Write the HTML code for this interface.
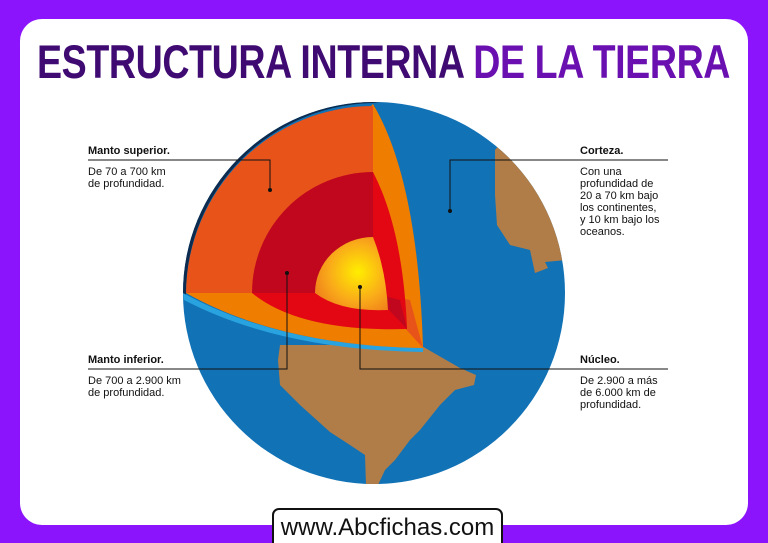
<!DOCTYPE html>
<html><head><meta charset="utf-8"><style>
html,body{margin:0;width:768px;height:543px;overflow:hidden}
body{background:#8c14fc;position:relative;font-family:"Liberation Sans",sans-serif}
.card{position:absolute;left:20px;top:19px;width:728px;height:506px;background:#fff;border-radius:22px}
.title{position:absolute;left:37px;top:36px;width:693px;white-space:nowrap;font-weight:bold;font-size:47px;line-height:52px;color:#3f0a72;transform-origin:left top;letter-spacing:-0.5px}
.lab{position:absolute;font-size:11px;line-height:12px;color:#111}
.lab b{display:block;margin-bottom:9px}
.foot{position:absolute;left:272px;top:508px;width:227px;height:40px;background:#fff;border:2px solid #111;border-radius:7px;font-size:24px;text-align:center;line-height:36px;color:#111}
</style></head><body>
<div class="card"></div>
<div class="title" id="t">ESTRUCTURA INTERNA <span style="color:#6a0fb0">DE LA TIERRA</span></div>
<svg width="768" height="543" style="position:absolute;left:0;top:0">
<defs>
<radialGradient id="g" cx="358" cy="272" r="60" gradientUnits="userSpaceOnUse"><stop offset="0" stop-color="#ffee00"/><stop offset="0.5" stop-color="#f9a81a"/><stop offset="1" stop-color="#e8641a"/></radialGradient>
<clipPath id="c"><circle cx="374" cy="293" r="191"/></clipPath>
</defs>
<circle cx="374" cy="293" r="191" fill="#1172b6"/>
<g clip-path="url(#c)" fill="#b07d48">
<path d="M495 150 L520 120 L570 160 L566 260 L545 262 L548 268 L535 273 L530 250 L510 245 L497 225 L495 195 Z"/>
<path d="M280 345 L420 345 L460 368 L476 375 L474 385 L455 390 L440 405 L420 430 L410 440 L395 460 L385 470 L378 485 L366 485 L365 455 L350 445 L330 432 L300 405 L280 385 L278 360 Z"/>
</g>
<path d="M183 293 A191 191 0 0 1 373 102 L380 103 A191 191 0 0 0 186 295 Z" fill="#0d2b4e"/>
<path d="M183 293 Q280 346 423 348 L423 352 Q280 350 184 300 Z" fill="#29a3e0"/>
<path d="M373 104 Q418 180 423 348 Q280 346 186 293 Z" fill="#ef7d00"/>
<path d="M373 293 L410 300 L423 348 Z" fill="#e8531a"/>
<path d="M373 293 L186 293 A187 189 0 0 1 373 106 Z" fill="#e8531a"/>
<path d="M373 172 Q403 230 407 329 Q300 332 252 293 Z" fill="#e30613"/>
<path d="M373 293 L252 293 A121 121 0 0 1 373 172 Z" fill="#c1071e"/>
<path d="M373 293 L400 300 L407 329 Z" fill="#c1071e"/>
<path d="M373 237 Q386 270 388 310 Q340 312 315 293 Z" fill="url(#g)"/>
<path d="M373 293 L315 293 A58 56 0 0 1 373 237 Z" fill="url(#g)"/>
<g stroke="#111" stroke-width="1" fill="none">
<path d="M88 160 H270 V190"/><path d="M668 160 H450 V211"/>
<path d="M88 369 H287 V273"/><path d="M668 369 H360 V287"/>
</g>
<g fill="#111"><circle cx="270" cy="190" r="2"/><circle cx="450" cy="211" r="2"/><circle cx="287" cy="273" r="2"/><circle cx="360" cy="287" r="2"/></g>
</svg>
<div class="lab" style="left:88px;top:145px"><b>Manto superior.</b>De 70 a 700 km<br>de profundidad.</div>
<div class="lab" style="left:580px;top:145px"><b>Corteza.</b>Con una<br>profundidad de<br>20 a 70 km bajo<br>los continentes,<br>y 10 km bajo los<br>oceanos.</div>
<div class="lab" style="left:88px;top:354px"><b>Manto inferior.</b>De 700 a 2.900 km<br>de profundidad.</div>
<div class="lab" style="left:580px;top:354px"><b>Núcleo.</b>De 2.900 a más<br>de 6.000 km de<br>profundidad.</div>
<div class="foot">www.Abcfichas.com</div>
<script>var t=document.getElementById('t');var w=t.scrollWidth;t.style.transform='scaleX('+(693/w)+')';</script>
</body></html>
